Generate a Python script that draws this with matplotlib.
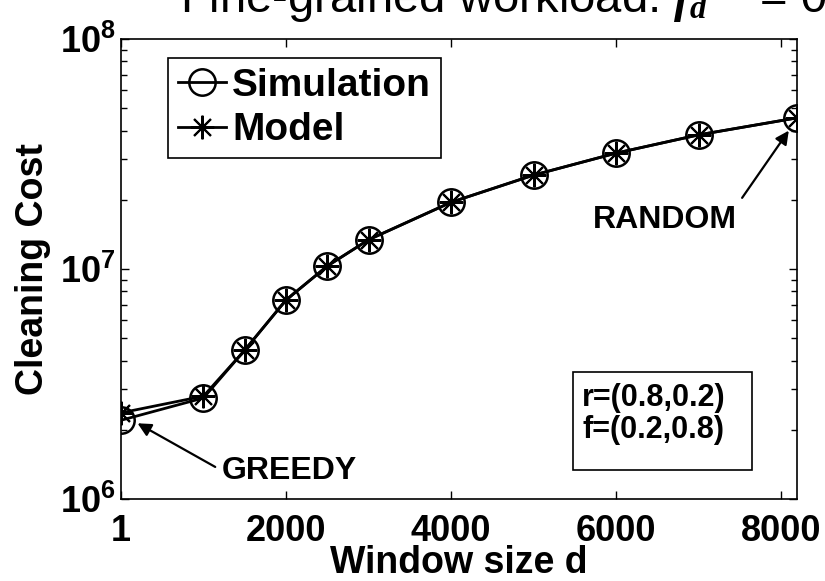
import numpy as np
import matplotlib
matplotlib.use("Agg")
import matplotlib.pyplot as plt
from matplotlib.patches import Rectangle
from matplotlib.ticker import LogLocator, NullFormatter

plt.rcParams['font.family'] = ['Liberation Sans', 'DejaVu Sans']
plt.rcParams['font.weight'] = 'bold'
plt.rcParams['mathtext.fontset'] = 'custom'
plt.rcParams['mathtext.rm'] = 'Liberation Sans:bold'
plt.rcParams['mathtext.bf'] = 'Liberation Sans:bold'
plt.rcParams['mathtext.it'] = 'Liberation Serif:italic'

# window sizes and measured / predicted cleaning cost
window = [1, 1000, 1500, 2000, 2500, 3000, 4000, 5000, 6000, 7000, 8192]
simulation = [2.20e6, 2.75e6, 4.44e6, 7.33e6, 1.03e7, 1.34e7, 1.95e7, 2.56e7, 3.19e7, 3.83e7, 4.54e7]
model = [2.37e6, 2.80e6, 4.44e6, 7.33e6, 1.03e7, 1.34e7, 1.95e7, 2.56e7, 3.19e7, 3.83e7, 4.54e7]

xticks = [1, 2000, 4000, 6000, 8000]
yticks = [1e6, 1e7, 1e8]
ytick_labels = [r'$\mathbf{10^{6}}$', r'$\mathbf{10^{7}}$', r'$\mathbf{10^{8}}$']

fig = plt.figure(figsize=(8.25, 5.81), dpi=100)
ax = fig.add_axes([0.1467, 0.1411, 0.8194, 0.7918])

asterisk = (8, 2, 0)
ax.plot(window, simulation, color='black', lw=2, marker='o', ms=19,
        mfc='none', mew=1.8, label='Simulation')
ax.plot(window, model, color='black', lw=2, marker=asterisk, ms=17,
        mew=1.5, label='Model')

ax.set_yscale('log')
ax.set_xlim(1, 8192)
ax.set_ylim(1e6, 1e8)
ax.set_xticks(xticks)
ax.set_xticklabels([str(t) for t in xticks])
ax.set_yticks(yticks)
ax.set_yticklabels(ytick_labels)
ax.yaxis.set_minor_locator(LogLocator(base=10, subs=np.arange(2, 10)))
ax.yaxis.set_minor_formatter(NullFormatter())

ax.tick_params(axis='both', which='both', direction='in', top=True, right=True,
               labelsize=26)
ax.tick_params(axis='x', which='major', length=6, width=1, pad=11)
ax.tick_params(axis='y', which='major', length=6, width=1, pad=4)
ax.tick_params(axis='y', which='minor', length=4, width=1)
for s in ax.spines.values():
    s.set_linewidth(1.2)

ax.set_xlabel('Window size d', fontsize=27, fontweight='bold', labelpad=-3)
ax.set_ylabel('Cleaning Cost', fontsize=27, fontweight='bold', labelpad=6)

leg = ax.legend(loc='upper left', bbox_to_anchor=(0.0695, 0.9587), borderaxespad=0,
                fontsize=28, handlelength=1.25, handletextpad=0.15, borderpad=0.25,
                labelspacing=0.22, fancybox=False, edgecolor='black', framealpha=1)
leg.get_frame().set_linewidth(1.2)

ax.annotate('GREEDY', xy=(window[0] + 200, simulation[0] * 0.97),
            xytext=(1220, 1.33e6), fontsize=23, fontweight='bold',
            ha='left', va='center',
            arrowprops=dict(arrowstyle='-|>', color='black', lw=1.6,
                            mutation_scale=20, shrinkA=3, shrinkB=0,
                            relpos=(0, 0.5)))
ax.annotate('RANDOM', xy=(window[-1] - 100, simulation[-1] * 0.88),
            xytext=(5720, 1.63e7), fontsize=23, fontweight='bold',
            ha='left', va='center',
            arrowprops=dict(arrowstyle='-|>', color='black', lw=1.6,
                            mutation_scale=20, shrinkA=4, shrinkB=0,
                            relpos=(1, 1)))

# parameter box in the lower right corner
ax.add_patch(Rectangle((0.6686, 0.063), 0.2648, 0.213, transform=ax.transAxes,
                       fill=False, ec='black', lw=1.2))
ax.text(0.682, 0.2196, 'r=(0.8,0.2)', transform=ax.transAxes,
        fontsize=22, fontweight='bold', ha='left', va='center')
ax.text(0.682, 0.150, 'f=(0.2,0.8)', transform=ax.transAxes,
        fontsize=22, fontweight='bold', ha='left', va='center')

fig.text(0.218, 0.979, r'Fine-grained workload: $\mathit{f}_{\mathit{d}}$',
         fontsize=34, fontweight='normal', ha='left', va='baseline')
fig.text(0.921, 0.979, '= 0.8', fontsize=34, fontweight='normal',
         ha='left', va='baseline')

fig.savefig('out.png', dpi=100)
